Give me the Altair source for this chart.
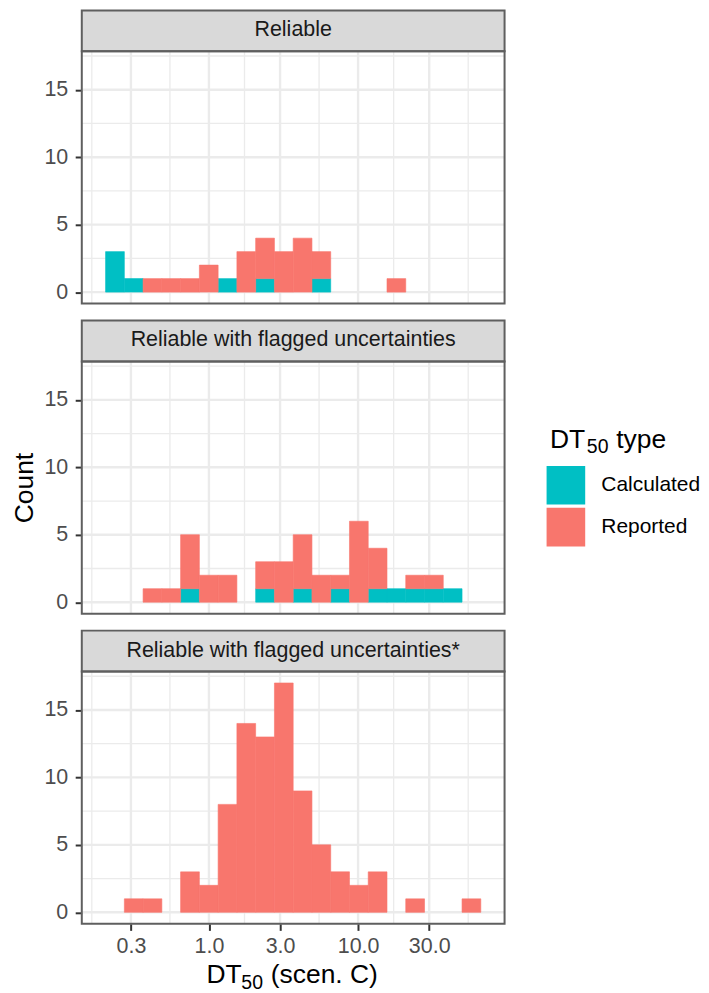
import altair as alt
import pandas as pd

FONT = "Liberation Sans"

# histogram bin edges (DT50 values, log-spaced bins)
bin_edges = [0.2028, 0.2710, 0.3619, 0.4835, 0.6458, 0.8630, 1.1529, 1.5402, 2.0576,
             2.7496, 3.6728, 4.9068, 6.5556, 8.7596, 11.700, 15.631, 20.88, 27.90,
             37.27, 49.80, 66.53]

panels = ["Reliable",
          "Reliable with flagged uncertainties",
          "Reliable with flagged uncertainties*"]
types = ["Calculated", "Reported"]
type_colors = ["#00BFC4", "#F8766D"]

# counts per bin (20 bins)
reliable_calc = [3, 1, 0, 0, 0, 0, 1, 0, 1, 0, 0, 1, 0, 0, 0, 0, 0, 0, 0, 0]
reliable_rep = [0, 0, 1, 1, 1, 2, 0, 3, 3, 3, 4, 2, 0, 0, 0, 1, 0, 0, 0, 0]
flagged_calc = [0, 0, 0, 0, 1, 0, 0, 0, 1, 0, 1, 0, 1, 0, 1, 1, 1, 1, 1, 0]
flagged_rep = [0, 0, 1, 1, 4, 2, 2, 0, 2, 3, 4, 2, 1, 6, 3, 0, 1, 1, 0, 0]
flagged2_calc = [0, 0, 0, 0, 0, 0, 0, 0, 0, 0, 0, 0, 0, 0, 0, 0, 0, 0, 0, 0]
flagged2_rep = [0, 1, 1, 0, 3, 2, 8, 14, 13, 17, 9, 5, 3, 2, 3, 0, 1, 0, 0, 1]

x_ticks = [0.3, 1.0, 3.0, 10.0, 30.0]
x_minor = [0.164, 0.5477, 1.732, 5.477, 17.32, 54.77]
y_ticks = [0, 5, 10, 15]
y_minor = [2.5, 7.5, 12.5, 17.5]
x_domain = [0.1517, 88.9]
y_domain = [-0.85, 17.85]

# title pieces (DT with subscript 50)
xtitle_parts = ["DT", "50", "(scen. C)"]
legend_title_parts = ["DT", "50", "type"]

W, H, SH = 424, 253, 41
BORDER = "#5f5f5f"
GRID = "#EBEBEB"
TF, SF = 26.5, 19.5  # title font size, subscript font size


def txt(df, s, x, y, size, color="black"):
    return alt.Chart(df).mark_text(text=s, font=FONT, fontSize=size, color=color,
                                   align="left", baseline="alphabetic").encode(
        x=alt.value(x), y=alt.value(y))


def panel(name, calc, rep, show_x, show_ytitle, show_legend):
    rows = []
    for t, vals in (("Calculated", calc), ("Reported", rep)):
        for i, c in enumerate(vals):
            if c > 0:
                rows.append({"lo": bin_edges[i], "hi": bin_edges[i + 1],
                             "count": c, "type": t})
    df = pd.DataFrame(rows)
    xs = alt.Scale(type="log", domain=x_domain, nice=False)
    ys = alt.Scale(domain=y_domain, nice=False, zero=False)

    if show_x:
        xaxis = alt.Axis(values=x_ticks, format=".1f", grid=False, domain=False,
                         tickSize=6.6, tickWidth=2, tickColor="#333333",
                         labelFont=FONT, labelFontSize=21.5, labelColor="#4D4D4D",
                         labelPadding=5, title=None)
    else:
        xaxis = None
    yaxis_kw = dict(values=y_ticks, grid=False, domain=False, tickSize=6.6,
                    tickWidth=2, tickColor="#333333", labelFont=FONT,
                    labelFontSize=21.5, labelColor="#4D4D4D", labelPadding=7.5)
    if show_ytitle:
        yaxis = alt.Axis(title="Count", titleFont=FONT, titleFontSize=TF,
                         titleFontWeight="normal", titleColor="black",
                         titlePadding=5, **yaxis_kw)
    else:
        yaxis = alt.Axis(title=None, **yaxis_kw)

    if show_legend:
        legend = alt.Legend(orient="none", legendX=466, legendY=415.7, title=None,
                            padding=0, labelFont=FONT, labelFontSize=21,
                            labelColor="black", labelOffset=16,
                            symbolType="square", symbolSize=1500,
                            symbolStrokeWidth=0, symbolOpacity=1, rowPadding=3)
    else:
        legend = None

    gx_minor = alt.Chart(pd.DataFrame({"v": x_minor})).mark_rule(
        color=GRID, strokeWidth=1.3).encode(x=alt.X("v:Q", scale=xs, axis=xaxis))
    gx_major = alt.Chart(pd.DataFrame({"v": x_ticks})).mark_rule(
        color=GRID, strokeWidth=2.4).encode(x=alt.X("v:Q", scale=xs, axis=xaxis))
    gy_minor = alt.Chart(pd.DataFrame({"v": y_minor})).mark_rule(
        color=GRID, strokeWidth=1.3).encode(y=alt.Y("v:Q", scale=ys, axis=yaxis))
    gy_major = alt.Chart(pd.DataFrame({"v": y_ticks})).mark_rule(
        color=GRID, strokeWidth=2.4).encode(y=alt.Y("v:Q", scale=ys, axis=yaxis))

    cscale = alt.Scale(domain=types, range=type_colors)
    bars = alt.Chart(df).mark_bar(orient="vertical", strokeWidth=0.6).encode(
        x=alt.X("lo:Q", scale=xs, axis=xaxis),
        x2="hi:Q",
        y=alt.Y("count:Q", scale=ys, axis=yaxis, stack="zero"),
        color=alt.Color("type:N", scale=cscale, legend=legend),
        stroke=alt.Stroke("type:N", scale=cscale, legend=None),
        order=alt.Order("type:N", sort="ascending"),
    )

    lab = pd.DataFrame({"label": [name]})
    strip = alt.Chart(lab).mark_rect(fill="#D9D9D9", stroke=BORDER,
                                     strokeWidth=2).encode(
        x=alt.value(0), x2=alt.value(W), y=alt.value(-SH), y2=alt.value(0))
    strip_text = alt.Chart(lab).mark_text(font=FONT, fontSize=21.5, color="#1A1A1A",
                                          align="center", baseline="middle").encode(
        x=alt.value(W / 2), y=alt.value(-SH / 2 - 0.5), text="label:N")
    border = alt.Chart(lab).mark_rect(fill=None, stroke=BORDER, strokeWidth=2).encode(
        x=alt.value(0), x2=alt.value(W), y=alt.value(0), y2=alt.value(H))

    layers = [gx_minor, gx_major, gy_minor, gy_major, bars, strip, strip_text, border]
    if show_x:
        by = H + 59
        layers += [txt(lab, xtitle_parts[0], 125, by, TF),
                   txt(lab, xtitle_parts[1], 160, by + 6.5, SF),
                   txt(lab, xtitle_parts[2], 189.5, by, TF)]
    if show_ytitle:
        ly = 86.5
        layers += [txt(lab, legend_title_parts[0], 469.5, ly, TF),
                   txt(lab, legend_title_parts[1], 506.5, ly + 5.5, SF),
                   txt(lab, legend_title_parts[2], 536, ly, TF)]

    return alt.layer(*layers).properties(width=W, height=H)


p1 = panel(panels[0], reliable_calc, reliable_rep, False, False, True)
p2 = panel(panels[1], flagged_calc, flagged_rep, False, True, False)
p3 = panel(panels[2], flagged2_calc, flagged2_rep, True, False, False)

chart = alt.vconcat(p1, p2, p3, spacing=14).resolve_scale(
    color="shared", stroke="shared").properties(
    padding={"left": 3, "top": 0, "right": 0, "bottom": 0}
).configure_view(stroke=None)

chart.save("out.html", embed_options={"renderer": "svg", "actions": False})
